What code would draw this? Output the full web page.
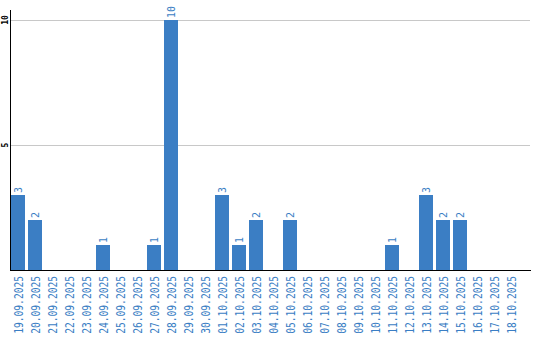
<!DOCTYPE html>
<html>
<head>
<meta charset="utf-8">
<script src="https://cdn.jsdelivr.net/npm/d3@7"></script>
<style>
	body { margin: 0; background: #fff; }
	svg { display: block; }
</style>
</head>
<body>
<svg></svg>
<script>
var dates = [
	"19.09.2025", "20.09.2025", "21.09.2025", "22.09.2025", "23.09.2025",
	"24.09.2025", "25.09.2025", "26.09.2025", "27.09.2025", "28.09.2025",
	"29.09.2025", "30.09.2025", "01.10.2025", "02.10.2025", "03.10.2025",
	"04.10.2025", "05.10.2025", "06.10.2025", "07.10.2025", "08.10.2025",
	"09.10.2025", "10.10.2025", "11.10.2025", "12.10.2025", "13.10.2025",
	"14.10.2025", "15.10.2025", "16.10.2025", "17.10.2025", "18.10.2025"
];
var counts = [3, 2, 0, 0, 0, 1, 0, 0, 1, 10, 0, 0, 3, 1, 2, 0, 2, 0, 0, 0, 0, 0, 1, 0, 3, 2, 2, 0, 0, 0];
var yTicks = [5, 10];

var width = 540,
	height = 340;

var blue = "#3b7ec4";

var svg = d3
	.select("svg")
	.attr("width", width)
	.attr("height", height);

var x = d3
	.scaleBand()
	.domain(dates)
	.range([11, 518])
	.paddingInner(3 / 17)
	.paddingOuter(0);

var y = d3
	.scaleLinear()
	.domain([0, 10])
	.range([270, 20]);

// gridlines
svg
	.selectAll(".grid")
	.data(yTicks)
	.enter()
	.append("line")
	.attr("class", "grid")
	.attr("x1", 10)
	.attr("x2", 530)
	.attr("y1", d => Math.round(y(d)) + 0.5)
	.attr("y2", d => Math.round(y(d)) + 0.5)
	.attr("stroke", "#c8c8c8")
	.attr("stroke-width", 1);

// y tick labels
svg
	.selectAll(".ylab")
	.data(yTicks)
	.enter()
	.append("text")
	.attr("class", "ylab")
	.attr("transform", d => "translate(8," + y(d) + ") rotate(-90)")
	.attr("text-anchor", "middle")
	.attr("font-family", "DejaVu Sans Mono")
	.attr("font-size", 8)
	.attr("font-weight", "bold")
	.attr("fill", "#000")
	.text(d => d);

// bars
svg
	.selectAll(".bar")
	.data(counts)
	.enter()
	.append("rect")
	.attr("class", "bar")
	.attr("x", (d, i) => x(dates[i]))
	.attr("y", d => y(d))
	.attr("width", x.bandwidth())
	.attr("height", d => y(0) - y(d))
	.attr("fill", blue);

// value labels
svg
	.selectAll(".val")
	.data(counts.map((d, i) => ({ date: dates[i], v: d })).filter(d => d.v > 0))
	.enter()
	.append("text")
	.attr("class", "val")
	.attr("transform", d =>
		"translate(" + (x(d.date) + x.bandwidth() / 2 + 3.5) + "," + (y(d.v) - 2) + ") rotate(-90)")
	.attr("text-anchor", "start")
	.attr("font-family", "DejaVu Sans Mono")
	.attr("font-size", 10)
	.attr("fill", blue)
	.text(d => d.v);

// axes lines
svg
	.append("line")
	.attr("x1", 10.5)
	.attr("x2", 10.5)
	.attr("y1", 10)
	.attr("y2", 271)
	.attr("stroke", "#000")
	.attr("stroke-width", 1);

svg
	.append("line")
	.attr("x1", 10)
	.attr("x2", 531)
	.attr("y1", 270.5)
	.attr("y2", 270.5)
	.attr("stroke", "#000")
	.attr("stroke-width", 1);

// x tick labels
svg
	.selectAll(".xlab")
	.data(dates)
	.enter()
	.append("text")
	.attr("class", "xlab")
	.attr("transform", d =>
		"translate(" + (x(d) + x.bandwidth() / 2 + 4.5) + ",276) rotate(-90) scale(0.8,1)")
	.attr("text-anchor", "end")
	.attr("font-family", "DejaVu Sans Mono")
	.attr("font-size", 12)
	.attr("fill", blue)
	.text(d => d);
</script>
</body>
</html>
